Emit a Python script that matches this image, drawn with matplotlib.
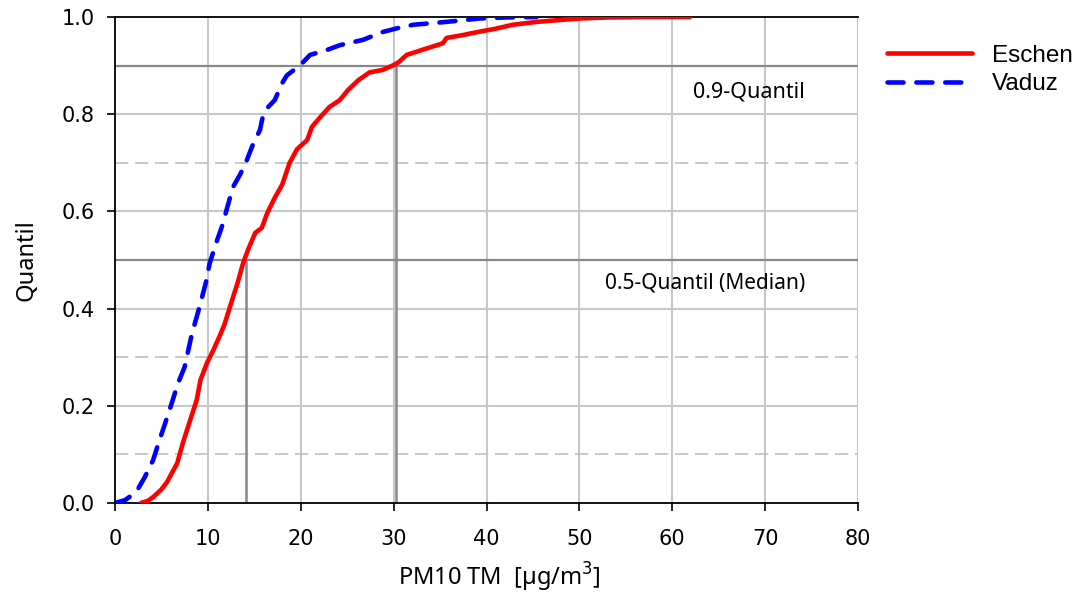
import numpy as np
import matplotlib.pyplot as plt

eschen_x = [2.8, 3.5, 4.1, 5.0, 5.6, 6.7, 7.3, 8.1, 8.8, 9.2, 9.9, 10.6, 11.3, 11.8, 12.4,
            13.2, 13.8, 14.3, 15.1, 15.8, 16.4, 17.2, 18.0, 18.8, 19.6, 20.7, 21.2, 22.1,
            23.1, 24.2, 25.1, 26.2, 27.4, 28.8, 30.1, 30.6, 31.4, 33.5, 35.3, 35.7, 37.5,
            39.0, 41.0, 42.8, 45.4, 48.0, 50.0, 53.0, 57.0, 61.9]
eschen_q = [0.0, 0.004, 0.012, 0.028, 0.043, 0.082, 0.123, 0.171, 0.212, 0.253, 0.288, 0.315,
            0.345, 0.368, 0.405, 0.453, 0.494, 0.52, 0.556, 0.566, 0.597, 0.628, 0.655, 0.70,
            0.728, 0.747, 0.774, 0.794, 0.815, 0.829, 0.85, 0.87, 0.886, 0.891, 0.902, 0.908,
            0.922, 0.935, 0.946, 0.957, 0.963, 0.969, 0.976, 0.984, 0.99, 0.994, 0.997, 0.999,
            1.0, 1.0]

vaduz_x = [0.0, 1.1, 2.3, 3.2, 4.1, 4.8, 5.4, 6.1, 6.8, 7.5, 7.9, 8.3, 8.8, 9.3, 9.8, 10.2,
           11.0, 11.5, 12.1, 12.7, 13.5, 14.2, 14.9, 15.6, 15.9, 16.5, 17.2, 18.0, 18.5, 19.9,
           21.0, 22.8, 24.2, 26.7, 28.8, 30.4, 32.1, 35.7, 39.3, 42.0, 45.4]
vaduz_q = [0.0, 0.006, 0.023, 0.053, 0.088, 0.13, 0.164, 0.205, 0.247, 0.28, 0.315, 0.35,
           0.383, 0.418, 0.455, 0.494, 0.541, 0.568, 0.609, 0.65, 0.677, 0.706, 0.74, 0.767,
           0.794, 0.815, 0.829, 0.864, 0.88, 0.90, 0.922, 0.932, 0.942, 0.953, 0.969, 0.977,
           0.984, 0.99, 0.997, 0.999, 1.0]

median_x = [14.1]
q90_x = [30.3]

plt.rcParams['font.family'] = ['DejaVu Sans']

fig = plt.figure(figsize=(10.86, 5.97), dpi=100)
ax = fig.add_axes([0.1059, 0.1575, 0.6842, 0.814])

# grid
for gx in range(10, 90, 10):
    ax.plot([gx, gx], [0, 1], color='#c8c8c8', lw=1.5, zorder=1)
for gy in [0.2, 0.4, 0.6, 0.8]:
    ax.plot([0, 80], [gy, gy], color='#c8c8c8', lw=1.5, zorder=1)
for gy in [0.1, 0.3, 0.7]:
    ax.plot([0, 80], [gy, gy], color='#c0c0c0', lw=1.2, dashes=(8, 4), zorder=1)

# quantile lines
ax.plot([0, 80], [0.5, 0.5], color='#888888', lw=1.6, zorder=2)
ax.plot([0, 80], [0.9, 0.9], color='#888888', lw=1.6, zorder=2)
ax.plot([median_x[0], median_x[0]], [0, 0.5], color='#888888', lw=1.8, zorder=2)
ax.plot([q90_x[0], q90_x[0]], [0, 0.9], color='#888888', lw=1.8, zorder=2)

ax.plot(eschen_x, eschen_q, color='#ff0000', lw=3.3, label='Eschen', zorder=4,
        solid_capstyle='round')
ax.plot(vaduz_x, vaduz_q, color='#0000ff', lw=3.3, ls=(0, (3.5, 2.8)), label='Vaduz',
        zorder=3, dash_capstyle='round')

ax.text(68.2, 0.845, '0.9-Quantil', fontsize=15.5, ha='center', va='center',
        family='Noto Sans')
ax.text(63.5, 0.453, '0.5-Quantil (Median)', fontsize=15, ha='center', va='center',
        family='Noto Sans')

ax.set_xlim(0, 80)
ax.set_ylim(0, 1)
ax.set_xticks(range(0, 90, 10))
ax.set_yticks(np.arange(0, 1.01, 0.2))
ax.set_yticklabels(['%.1f' % v for v in np.arange(0, 1.01, 0.2)])
ax.tick_params(labelsize=15, length=5.5, width=1.2, direction='out')
ax.tick_params(axis='x', pad=13)
ax.tick_params(axis='y', pad=9)
for s in ['left', 'bottom', 'top']:
    ax.spines[s].set_linewidth(1.3)
ax.spines['right'].set_visible(False)

ax.set_xlabel('PM10 TM  [µg/m$^3$]', fontsize=17, family='Noto Sans')
ax.xaxis.set_label_coords(0.517, -0.118)
ax.set_ylabel('Quantil', fontsize=17, labelpad=17, family='Noto Sans')

fig.legend(loc='upper left', bbox_to_anchor=(0.797, 0.962), frameon=False,
           prop={'family': 'Liberation Sans', 'size': 17.5}, handlelength=3.5,
           handletextpad=0.8, labelspacing=0.28)

fig.savefig('out.png', dpi=100)
